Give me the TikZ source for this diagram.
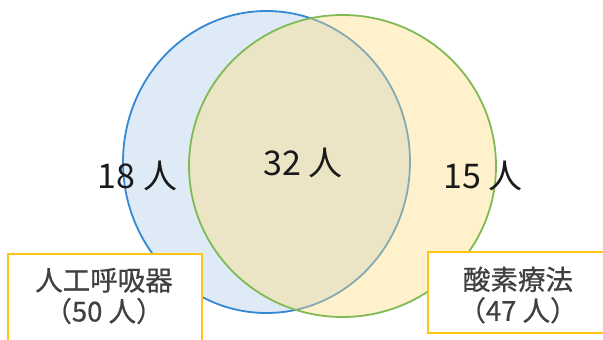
\documentclass[tikz,border=0pt]{standalone}
\usepackage{fontspec}
\setmainfont{Noto Sans CJK JP}
\newfontfamily\jpfont{Noto Sans CJK JP}
\newfontfamily\boxfont[FakeBold=0.6]{Noto Sans CJK JP}
\definecolor{bluefill}{RGB}{222,234,246}
\definecolor{bluestroke}{RGB}{52,136,212}
\definecolor{yellowfill}{RGB}{255,222,127}
\definecolor{greenstroke}{RGB}{128,186,84}
\definecolor{boxline}{RGB}{255,196,20}
\definecolor{boxtextcol}{RGB}{64,64,64}
\definecolor{labelcol}{RGB}{26,26,26}
\tikzset{
  setA/.style={fill=bluefill, draw=bluestroke, line width=1.8pt},
  setBfill/.style={fill=yellowfill, fill opacity=0.4},
  setBline/.style={draw=greenstroke, line width=1.8pt},
  infobox/.style={draw=boxline, line width=2pt, fill=white},
  countlabel/.style={text=labelcol, font=\jpfont\fontsize{34}{40}\selectfont, inner sep=0pt},
  boxtext/.style={text=boxtextcol, font=\boxfont\fontsize{27.5}{31}\selectfont, align=center, inner sep=0pt}
}
\begin{document}
\begin{tikzpicture}[x=1pt,y=-1pt]
\useasboundingbox (0,0) rectangle (603,340);
\fill[white] (0,0) rectangle (603,340);
% set A (ventilator)
\path[setA] (266.5,162) ellipse [x radius=143.5, y radius=151];
% set B (oxygen therapy)
\path[setBfill] (342.5,166) ellipse [x radius=153.5, y radius=151];
\path[setBline] (342.5,166) ellipse [x radius=153.5, y radius=151];
% counts
\node[countlabel] (onlyA) at (137.5,176) {18 人};
\node[countlabel] (both) at (303,163) {32 人};
\node[countlabel] (onlyB) at (483,176) {15 人};
% legend boxes
\path[infobox] (8,254) rectangle (202,350);
\node[boxtext] (ltxt) at (104,296) {人工呼吸器\\（50 人）};
\path[infobox] (428,252) rectangle (612,333);
\node[boxtext] (rtxt) at (518,295) {酸素療法\\（47 人）};
\end{tikzpicture}
\end{document}
